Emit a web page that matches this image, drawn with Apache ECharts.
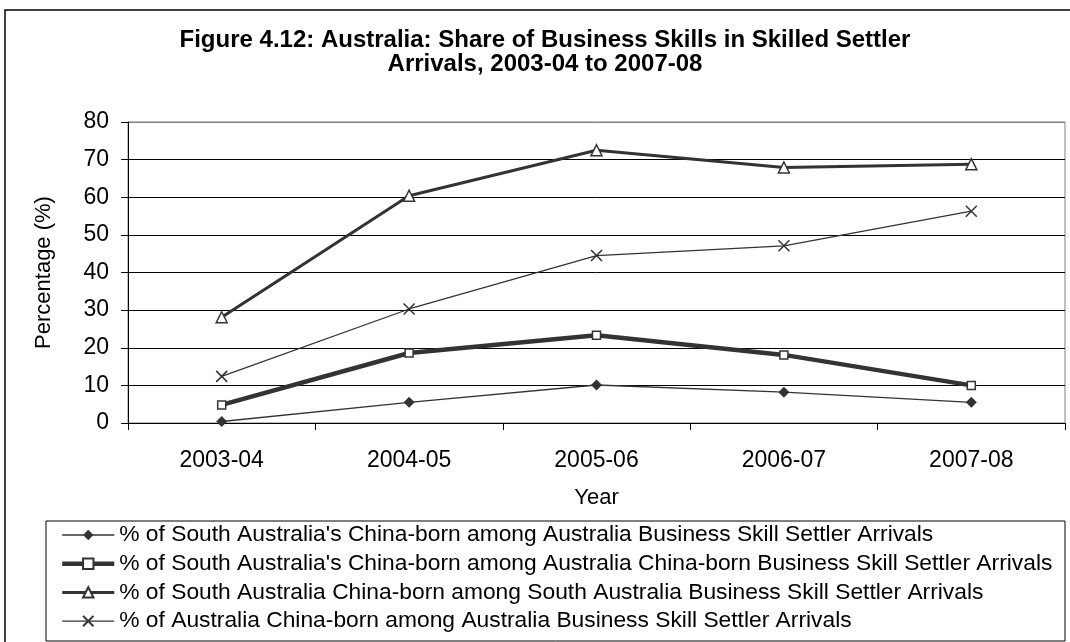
<!DOCTYPE html>
<html>
<head>
<meta charset="utf-8">
<script src="https://cdn.jsdelivr.net/npm/echarts@6/dist/echarts.min.js"></script>
<style>
  html, body { margin: 0; padding: 0; background: #fff; }
  #main { width: 1070px; height: 642px; }
</style>
</head>
<body>
<div id="main"></div>
<script>
let years = ['2003-04', '2004-05', '2005-06', '2006-07', '2007-08']

let seriesNames = [
    "% of South Australia's China-born among Australia Business Skill Settler Arrivals",
    "% of South Australia's China-born among Australia China-born Business Skill Settler Arrivals",
    "% of South Australia China-born among South Australia Business Skill Settler Arrivals",
    "% of Australia China-born among Australia Business Skill Settler Arrivals"
]

let saOfAus = [0.4, 5.5, 10.1, 8.2, 5.5]
let saOfAusChina = [4.8, 18.6, 23.3, 18.1, 10.0]
let saChinaOfSa = [28.1, 60.4, 72.5, 67.9, 68.8]
let ausChinaOfAus = [12.4, 30.3, 44.5, 47.1, 56.3]

let font = 'Arial, "Liberation Sans", sans-serif'
let ink = '#333'
let lineWidths = [1.3, 4.5, 3, 1.3]

let mychart = echarts.init(document.getElementById('main'))

let option = {
    animation: false,
    backgroundColor: '#fff',
    textStyle: { fontFamily: font },
    title: {
        text: 'Figure 4.12: Australia: Share of Business Skills in Skilled Settler\nArrivals, 2003-04 to 2007-08',
        left: 545,
        top: 28,
        padding: 0,
        textAlign: 'center',
        textStyle: { fontFamily: font, fontSize: 24, fontWeight: 'bold', lineHeight: 24, color: '#000' }
    },
    graphic: [
        {
            type: 'rect',
            shape: { x: 5, y: 10, width: 1075, height: 640 },
            style: { fill: 'none', stroke: '#000', lineWidth: 1.5 },
            z: 100
        },
        {
            type: 'rect',
            shape: { x: 46, y: 521, width: 1019, height: 120 },
            style: { fill: 'none', stroke: '#000', lineWidth: 1 },
            z: 100
        }
    ],
    legend: {
        orient: 'vertical',
        left: 60,
        top: 523,
        padding: 0,
        itemWidth: 52,
        itemHeight: 13,
        itemGap: 4.7,
        textStyle: { fontFamily: font, fontSize: 22.8, lineHeight: 24, color: '#000' },
        data: seriesNames.map((n, i) => ({
            name: n,
            lineStyle: { width: lineWidths[i], color: ink }
        }))
    },
    grid: {
        left: 128,
        right: 5,
        top: 122,
        bottom: 219,
        show: true,
        borderColor: '#808080',
        borderWidth: 1,
        backgroundColor: '#fff'
    },
    xAxis: {
        type: 'category',
        data: years,
        boundaryGap: true,
        name: 'Year',
        nameLocation: 'middle',
        nameGap: 64,
        nameTextStyle: { fontFamily: font, fontSize: 22, color: '#000' },
        axisLine: { lineStyle: { color: '#000', width: 1 } },
        axisTick: { show: true, length: 7, lineStyle: { color: '#000' } },
        axisLabel: { margin: 26, fontSize: 23, color: '#000', fontFamily: font }
    },
    yAxis: {
        type: 'value',
        min: 0,
        max: 80,
        interval: 10,
        name: 'Percentage (%)',
        nameLocation: 'middle',
        nameGap: 73,
        nameTextStyle: { fontFamily: font, fontSize: 22, color: '#000' },
        axisLine: { show: true, lineStyle: { color: '#000', width: 1 } },
        axisTick: { show: true, length: 7, lineStyle: { color: '#000' } },
        axisLabel: { margin: 19, fontSize: 23, color: '#000', fontFamily: font },
        splitLine: {
            show: true,
            lineStyle: {
                color: ['#000', '#000', '#000', '#000', '#000', '#000', '#000', '#000', '#808080'],
                width: 1
            }
        }
    },
    series: [
        {
            name: seriesNames[0],
            type: 'line',
            data: saOfAus,
            symbol: 'diamond',
            symbolSize: 11,
            lineStyle: { color: ink, width: lineWidths[0] },
            itemStyle: { color: ink, borderColor: ink, borderWidth: 0 }
        },
        {
            name: seriesNames[1],
            type: 'line',
            data: saOfAusChina,
            symbol: 'rect',
            symbolSize: 8,
            lineStyle: { color: ink, width: lineWidths[1] },
            itemStyle: { color: '#fff', borderColor: ink, borderWidth: 1.5 }
        },
        {
            name: seriesNames[2],
            type: 'line',
            data: saChinaOfSa,
            symbol: 'triangle',
            symbolSize: 11,
            lineStyle: { color: ink, width: lineWidths[2] },
            itemStyle: { color: '#fff', borderColor: ink, borderWidth: 1.5 }
        },
        {
            name: seriesNames[3],
            type: 'line',
            data: ausChinaOfAus,
            symbol: 'path://M0,0L10,10M0,10L10,0',
            symbolSize: 11,
            lineStyle: { color: ink, width: lineWidths[3] },
            itemStyle: { color: 'none', borderColor: ink, borderWidth: 1.5 }
        }
    ]
}

mychart.setOption(option)
</script>
</body>
</html>
